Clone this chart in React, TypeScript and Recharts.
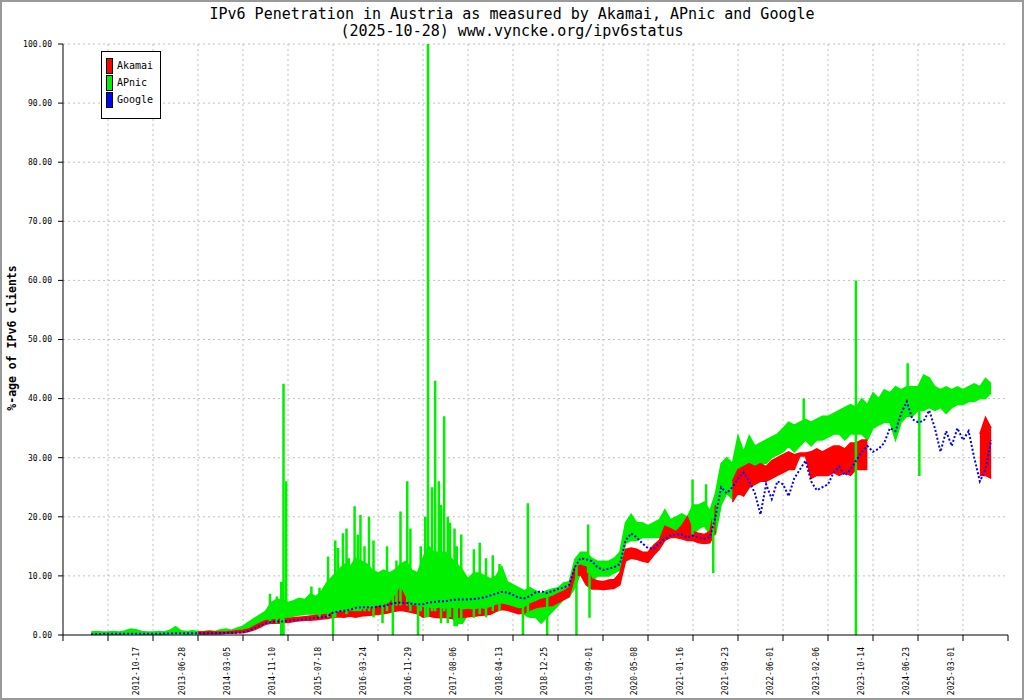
import React from 'react';
import { ComposedChart, Area, Line, XAxis, YAxis, CartesianGrid, Legend } from 'recharts';

// x is measured in axis-tick units (22 ticks, 0..21); each sample is 1/8 of a tick
const STEP = 0.125;
const GREEN_START = 0.625;
const GOOGLE_START = 0.625;
const AKAMAI_START = 3.0;

const dateLabels = [
  '', '2012-10-17', '2013-06-28', '2014-03-05', '2014-11-10', '2015-07-18', '2016-03-24',
  '2016-11-29', '2017-08-06', '2018-04-13', '2018-12-25', '2019-09-01', '2020-05-08',
  '2021-01-16', '2021-09-23', '2022-06-01', '2023-02-06', '2023-10-14', '2024-06-23',
  '2025-03-01', '', '',
];
const xTicks = dateLabels.map((_, i) => i);
const yTicks = [0, 10, 20, 30, 40, 50, 60, 70, 80, 90, 100];

type Pair = [number, number] | null;

// APnic daily band per sample: [low, high]
const apnic: Pair[] = [
  [0.1, 0.5], [0.1, 0.6], [0.2, 0.5],
  [0.1, 0.5], [0.1, 0.6], [0.1, 0.5], [0.2, 0.7], [0.2, 1.0], [0.2, 0.9], [0.1, 0.6], [0.1, 0.5],
  [0.1, 0.5], [0.1, 0.6], [0.1, 0.5], [0.2, 0.8], [0.2, 1.4], [0.2, 0.7], [0.1, 0.6], [0.2, 0.7],
  [0.2, 0.6], [0.1, 0.6], [0.2, 0.7], [0.2, 0.6], [0.2, 0.9], [0.3, 1.0], [0.3, 0.8], [0.5, 1.2],
  [0.6, 1.5], [0.8, 2.2], [1.2, 2.8], [1.5, 3.4], [2.0, 4.0], [2.2, 5.5], [2.0, 6.0], [2.0, 6.0],
  [3, 5.5], [3.2, 5.8], [3.4, 6.2], [3.5, 6.0], [3.6, 7.0], [3.5, 6.5], [3.6, 7.5], [3.4, 9],
  [3.5, 10], [3.8, 11], [4, 12], [3.8, 11.5], [3.6, 13], [3.8, 12.5], [3.8, 12], [3.5, 11],
  [4.5, 10.5], [5, 11], [4.8, 10.5], [4.5, 11], [5, 12], [5, 12.5], [5, 11], [4.5, 10.5],
  [4, 13], [3.5, 15], [3.5, 14], [4, 14], [3.5, 14], [3, 13], [2, 12], [2, 11],
  [3.5, 9.5], [3, 10.5], [3.5, 10.5], [4, 10], [4.5, 9.5], [5, 10], [5, 11.6], [5, 9],
  [4.5, 8.5], [4, 8], [3.5, 7.5], [3, 8], [3, 7.5], [2, 7], [3, 7.5], [4, 7.8],
  [5, 8], [6, 8.8], [6.5, 9], [8, 12.8], [10.5, 14], [10.5, 14], [9, 13], [10, 12.5],
  [10, 12.5], [10, 12.5], [10.5, 13], [11, 14], [15.5, 19], [16, 20.4], [16, 19], [16.5, 19],
  [16.5, 18.5], [16.5, 19], [16.5, 19.5], [17, 21.2], [17, 19.5], [17, 20], [16.5, 20.5], [17, 20],
  [17, 22], [18, 22], [18.5, 22.5], [17, 21], [17, 24], [22, 29], [24, 30], [23, 29],
  [26, 33.7], [27, 31], [28, 33.7], [28, 32], [29, 32.5], [29, 33], [30, 33.5], [30.5, 34],
  [31, 35], [32, 36], [31, 35.5], [32, 36], [33, 36.5], [32, 36], [33, 36.5], [33, 37],
  [33.5, 37], [34, 37.5], [34, 38], [33, 38.5], [34, 39], [34, 38.5], [34, 40], [33, 39],
  [35, 41], [35.5, 40], [36, 41.5], [36, 41], [33, 42], [36, 41.5], [37, 42], [37, 42],
  [38, 42], [38, 44], [38.5, 43.5], [38, 42], [38.5, 41.5], [37.5, 42], [38.5, 41.5], [39, 42],
  [39, 41.5], [39.5, 42], [39.5, 42.5], [40, 42], [40, 43.4], [41, 42.5],
];

// APnic single-day outliers: [position, low, high]
const apnicSpikes: [number, number, number][] = [
  [4.6, 2, 7], [4.75, 2, 6.5],
  [4.85, 0, 9], [4.9, 0, 42.5], [4.96, 3, 26],
  [5.52, 3.5, 8.2], [5.7, 3, 8], [5.89, 3, 13.3],
  [6.0, 0, 9], [6.05, 3, 16], [6.11, 4, 14.7], [6.22, 4, 17.2], [6.3, 3.5, 18], [6.35, 4, 13],
  [6.48, 4, 21.8], [6.55, 4, 17], [6.61, 4, 20.3], [6.7, 4, 15], [6.8, 4, 20], [6.9, 3, 16],
  [7.1, 2, 9], [7.2, 4, 15], [7.33, 0, 10], [7.41, 5, 12.6], [7.5, 5, 20.9], [7.65, 5, 26],
  [7.72, 4, 18], [7.89, 0, 10], [7.95, 4, 15],
  [8.05, 3, 20], [8.11, 3, 100], [8.2, 4, 25], [8.27, 4, 43], [8.35, 5, 26], [8.4, 2, 22],
  [8.47, 4, 37], [8.55, 2, 20], [8.6, 3, 19], [8.7, 1.5, 18], [8.75, 1.5, 15], [8.85, 2, 17],
  [9.13, 3, 14.5], [9.26, 3.5, 15.6], [9.4, 3, 13], [9.55, 4, 13.5], [9.7, 4, 12],
  [10.22, 0, 7.5], [10.33, 3, 22.3], [10.76, 0, 7.5],
  [11.41, 0, 12], [11.67, 10.5, 18.7], [11.7, 2.9, 13],
  [13.99, 17, 26.3],
  [14.29, 18, 25.5], [14.45, 10.5, 22],
  [16.46, 33, 40],
  [17.62, 0, 60],
  [18.77, 37, 46],
  [19.03, 26.9, 42],
];

const akamai: Pair[] = [
  [0.2, 0.5], [0.2, 0.5], [0.2, 0.6], [0.2, 0.5], [0.2, 0.5], [0.3, 0.5], [0.3, 0.6], [0.4, 0.7],
  [0.4, 0.8], [0.6, 1.0], [0.9, 1.5], [1.3, 2.0], [1.8, 2.4], [2.0, 2.5], [2.0, 2.6], [2.1, 2.7],
  [2.1, 2.8], [2.3, 2.9], [2.4, 3.0], [2.5, 3.1], [2.5, 3.2], [2.6, 3.3], [2.7, 3.4], [2.8, 3.5],
  [3.0, 3.7], [3.1, 3.8], [3.0, 3.9], [3.2, 4.0], [3.0, 3.9], [3.2, 4.2], [3.3, 4.3], [3.4, 4.6],
  [3.5, 4.8], [3.6, 5.0], [3.8, 5.3], [4.0, 6.5], [4.2, 8.0], [4.0, 6.0], [3.8, 5.0], [3.6, 4.8],
  [3.0, 4.6], [3.2, 4.5], [3.0, 4.4], [2.9, 4.5], [3.0, 4.3], [2.8, 4.4], [3.0, 4.5], [3.0, 4.2],
  [3.1, 4.3], [3.2, 4.2], [3.3, 4.4], [3.4, 4.3], [3.5, 4.6], [4.0, 5.0], [4.3, 5.2], [4.2, 5.0],
  [3.9, 4.7], [3.6, 4.4], [3.7, 4.5], [4.2, 5.2], [4.6, 5.6], [4.8, 6.0], [4.9, 6.2], [5.0, 6.5],
  [5.5, 7.0], [6.0, 7.4], [6.5, 8.0], [10.0, 11.5], [10.2, 11.8], [8.5, 11.5], [7.8, 9.5], [7.8, 9.2],
  [7.7, 9.0], [7.8, 9.3], [7.9, 9.4], [8.5, 10.5], [12.5, 14.5], [13.0, 14.7], [12.8, 14.5], [12.5, 14.0],
  [12.3, 14.0], [13.5, 15.2], [14.5, 16.0], [16.0, 18.4], [16.5, 18.0], [16.5, 17.5], [16.3, 18.5], [16.0, 20.0],
  [16.0, 17.5], [15.6, 17.2], [15.5, 17.0], [15.6, 17.5], [17.5, 22.0], null, null, [22.5, 26],
  [24, 28], [23.5, 28.5], [25, 29], [25.5, 28.5], [26, 29], [26, 28.5], [26.5, 29.5], [27, 30],
  [27.5, 30.5], [28, 31], [28, 30.5], [30.3, 30.8], [30.3, 30.8], [26.5, 31], [27, 31.5], [27, 31],
  [27, 31.5], [27.5, 32], [27, 32], [27.5, 31.5], [27, 32.5], [28, 32.5], [28, 33], [28, 33],
  null, null, null, null, null, null, null, null,
  null, null, null, null, null, null, null, null,
  null, null, null, [27, 34], [27, 36.8], [26.5, 35],
];

const google: number[] = [
  0.1, 0.15, 0.2,
  0.2, 0.2, 0.2, 0.2, 0.2, 0.2, 0.2, 0.2,
  0.2, 0.2, 0.25, 0.25, 0.3, 0.3, 0.3, 0.3,
  0.3, 0.3, 0.3, 0.3, 0.35, 0.35, 0.4, 0.4,
  0.5, 0.7, 1.1, 1.6, 2.0, 2.2, 2.3, 2.3,
  2.4, 2.5, 2.6, 2.7, 2.8, 2.9, 3.0, 3.1,
  3.8, 4.0, 4.1, 4.3, 4.6, 4.7, 4.7, 4.7,
  4.8, 4.9, 5.2, 5.4, 5.5, 5.4, 5.3, 5.2,
  5.2, 5.5, 5.6, 5.7, 5.7, 5.9, 6.0, 6.0,
  6.0, 6.1, 6.2, 6.4, 6.7, 7.0, 7.3, 7.2,
  6.8, 6.3, 6.2, 6.6, 7.2, 7.4, 7.1, 7.4,
  7.8, 8.0, 8.5, 11.5, 13.0, 12.8, 12.5, 11.5,
  11.0, 11.2, 11.5, 12.0, 16.0, 17.2, 16.5, 15.5,
  14.7, 14.6, 15.5, 16.3, 16.8, 17.0, 17.0, 16.5,
  16.8, 16.5, 16.3, 16.5, 20.0, 25.0, 24.0, 25.0,
  26.5, 27.5, 26.0, 24.0, 20.4, 25.5, 23.0, 26.0,
  25.5, 23.5, 26.5, 28.0, 29.5, 26.0, 24.5, 25.0,
  25.5, 27.5, 28.5, 27.0, 28.0, 29.5, 31.0, 32.0,
  31.0, 31.5, 32.5, 35.0, 34.5, 37.5, 39.5, 36.5,
  36.0, 36.2, 38.0, 35.0, 31.0, 34.5, 32.0, 35.0,
  33.0, 34.5, 30.0, 26.0, 28.0, 33.0,
];

const legendItems = [
  { name: 'Akamai', color: '#ff0000' },
  { name: 'APnic', color: '#00f000' },
  { name: 'Google', color: '#0000ff' },
];

// bands are drawn as range areas, outliers as vertical segments broken by nulls
const apnicRows = apnic.map((p, i) => ({ t: GREEN_START + i * STEP, v: p }));
const akamaiRows = akamai.map((p, i) => ({ t: AKAMAI_START + i * STEP, v: p }));
const googleRows = google.map((v, i) => ({ t: GOOGLE_START + i * STEP, v }));
const spikeRows = apnicSpikes.flatMap(([t, lo, hi]) => [
  { t, v: lo },
  { t, v: hi },
  { t, v: null },
]);

const MONO = '"DejaVu Sans Mono", monospace';

function DateTick(props: any) {
  const { x, y, payload } = props;
  const k = payload.value as number;
  const label = dateLabels[k];
  if (!label) return <g />;
  const lx = x + 31.4 + 0.28 * (k - 1);
  return (
    <text
      x={lx}
      y={y}
      transform={`rotate(-90, ${lx}, ${y})`}
      textAnchor="end"
      fontFamily={MONO}
      fontSize={8}
      fill="#000"
    >
      {label}
    </text>
  );
}

function LegendBox() {
  return (
    <div
      style={{
        border: '1px solid #000',
        background: '#fff',
        width: 58,
        height: 61,
        boxSizing: 'content-box',
        fontFamily: MONO,
        fontSize: 10,
        paddingTop: 5,
      }}
    >
      {legendItems.map((it) => (
        <div key={it.name} style={{ display: 'flex', alignItems: 'center', height: 17, paddingLeft: 4 }}>
          <span
            style={{
              display: 'inline-block',
              width: 5,
              height: 14,
              background: it.color,
              border: '1px solid #000',
              marginRight: 4,
            }}
          />
          <span>{it.name}</span>
        </div>
      ))}
    </div>
  );
}

export default function App() {
  return (
    <div
      style={{
        position: 'absolute',
        left: 0,
        top: 0,
        width: 1024,
        height: 700,
        background: '#fff',
        border: '2px solid #9a9a9a',
        boxSizing: 'border-box',
      }}
    >
      <div style={{ position: 'absolute', left: -2, top: -2 }}>
        <ComposedChart width={1024} height={700} margin={{ top: 44, right: 16, bottom: 0, left: 0 }}>
          <CartesianGrid
            stroke="#c0c0c0"
            strokeDasharray="2 3"
            verticalValues={xTicks.slice(1, 21)}
            horizontalValues={yTicks.slice(1)}
          />
          <XAxis
            dataKey="t"
            type="number"
            domain={[0, 21]}
            ticks={xTicks}
            interval={0}
            height={65}
            tickSize={6}
            tickMargin={6}
            stroke="#000"
            tickLine={{ stroke: '#000' }}
            tick={<DateTick />}
            allowDataOverflow
          />
          <YAxis
            type="number"
            domain={[0, 100]}
            ticks={yTicks}
            width={63}
            tickSize={5}
            tickMargin={6}
            stroke="#000"
            tickLine={{ stroke: '#000' }}
            tick={{ fontFamily: MONO, fontSize: 8, fill: '#000' }}
            tickFormatter={(v: number) => v.toFixed(2)}
            allowDataOverflow
          />
          <Legend
            verticalAlign="middle"
            align="center"
            content={() => <LegendBox />}
            wrapperStyle={{ left: 101, top: 51, width: 60, height: 64 }}
          />
          {/* APnic band first so the Akamai band shows on top of it, like the original */}
          <Area
            data={apnicRows}
            dataKey="v"
            name="APnic"
            type="linear"
            stroke="#00f000"
            strokeWidth={1.5}
            fill="#00f000"
            fillOpacity={1}
            isAnimationActive={false}
          />
          <Area
            data={akamaiRows}
            dataKey="v"
            name="Akamai"
            type="linear"
            stroke="#ff0000"
            strokeWidth={1.5}
            fill="#ff0000"
            fillOpacity={1}
            connectNulls={false}
            isAnimationActive={false}
          />
          <Line
            data={spikeRows}
            dataKey="v"
            name="APnic outliers"
            legendType="none"
            type="linear"
            stroke="#00f000"
            strokeWidth={2.5}
            dot={false}
            connectNulls={false}
            isAnimationActive={false}
          />
          <Line
            data={googleRows}
            dataKey="v"
            name="Google"
            type="linear"
            stroke="#0000ff"
            strokeWidth={2}
            strokeDasharray="2 2"
            dot={false}
            isAnimationActive={false}
          />
        </ComposedChart>
      </div>
      <svg
        width={1024}
        height={700}
        style={{ position: 'absolute', left: -2, top: -2, pointerEvents: 'none' }}
      >
        <text x={512} y={19} textAnchor="middle" fontFamily={MONO} fontSize={15} fill="#000">
          IPv6 Penetration in Austria as measured by Akamai, APnic and Google
        </text>
        <text x={512} y={36} textAnchor="middle" fontFamily={MONO} fontSize={15} fill="#000">
          (2025-10-28) www.vyncke.org/ipv6status
        </text>
        <text
          x={16}
          y={338}
          transform="rotate(-90, 16, 338)"
          textAnchor="middle"
          fontFamily={MONO}
          fontWeight="bold"
          fontSize={11.5}
          fill="#000"
        >
          %-age of IPv6 clients
        </text>
      </svg>
    </div>
  );
}
